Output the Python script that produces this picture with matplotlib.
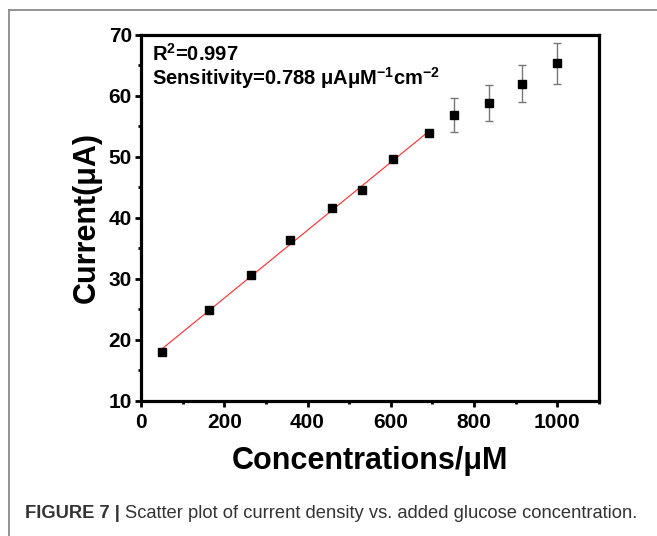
import numpy as np
import matplotlib
matplotlib.use('Agg')
import matplotlib.pyplot as plt
from matplotlib.ticker import MultipleLocator
from matplotlib.lines import Line2D

plt.rcParams['font.family'] = ['Liberation Sans', 'DejaVu Sans']
plt.rcParams['mathtext.fontset'] = 'custom'
plt.rcParams['mathtext.rm'] = 'Liberation Sans'
plt.rcParams['mathtext.bf'] = 'Liberation Sans:bold'

# linear range (fitted)
conc_fit = [51, 163, 265, 359, 458, 530, 606, 693]
current_fit = [18.0, 24.9, 30.7, 36.3, 41.6, 44.5, 49.7, 53.9]
# saturation range (with error bars)
conc_sat = [752, 835, 916, 1000]
current_sat = [56.8, 58.8, 62.0, 65.3]
err_sat = [2.8, 2.9, 3.0, 3.3]

fig = plt.figure(figsize=(6.57, 5.36), dpi=100)
ax = fig.add_axes([0.2146, 0.2519, 0.697, 0.6834])

# outer frame of the figure panel
fig.add_artist(Line2D([8.5 / 657, 8.5 / 657], [0, 1 - 10 / 536], color='#8a8a8a', lw=1.3))
fig.add_artist(Line2D([8.5 / 657, 1], [1 - 10 / 536, 1 - 10 / 536], color='#8a8a8a', lw=1.3))

# fitted line
slope, icpt = np.polyfit(conc_fit, current_fit, 1)
xx = np.array([conc_fit[0], conc_fit[-1]])
ax.plot(xx, slope * xx + icpt, color='#ff2a2a', lw=0.8, zorder=2)

ax.plot(conc_fit, current_fit, 's', color='black', ms=6, zorder=3)
ax.errorbar(conc_sat, current_sat, yerr=err_sat, fmt='s', color='black', ms=6,
            ecolor='#777777', elinewidth=1.0, capsize=3, capthick=1.0, zorder=3)

ax.set_xlim(0, 1100)
ax.set_ylim(10, 70)
ax.xaxis.set_major_locator(MultipleLocator(200))
ax.xaxis.set_minor_locator(MultipleLocator(100))
ax.yaxis.set_major_locator(MultipleLocator(10))
ax.yaxis.set_minor_locator(MultipleLocator(5))
ax.tick_params(which='major', direction='out', length=4.5, width=2, labelsize=15)
ax.tick_params(axis='x', which='major', pad=4)
ax.tick_params(axis='y', which='major', pad=2)
ax.tick_params(which='minor', direction='out', length=2.5, width=2)
for lab in ax.get_xticklabels() + ax.get_yticklabels():
    lab.set_fontweight('bold')
for sp in ax.spines.values():
    sp.set_linewidth(2.3)

ax.set_xlabel('Concentrations/μM', fontsize=22, fontweight='bold', labelpad=10)
ax.set_ylabel('Current(μA)', fontsize=22, fontweight='bold', labelpad=5)

ax.text(0.025, 0.978, r'R$^{\mathbf{2}}$=0.997', transform=ax.transAxes,
        fontsize=14.5, fontweight='bold', va='top', ha='left')
ax.text(0.025, 0.918, r'Sensitivity=0.788 μAμM$^{\mathbf{-1}}$cm$^{\mathbf{-2}}$',
        transform=ax.transAxes, fontsize=14.5, fontweight='bold', va='top', ha='left')

# caption
cap_y = 1 - 514 / 536
t1 = fig.text(25 / 657, cap_y, 'FIGURE 7 | ', fontsize=13.2, fontweight='bold',
              color='#333333', va='center', ha='left')
fig.canvas.draw()
bb = t1.get_window_extent()
fig.text(bb.x1 / fig.bbox.width, cap_y,
         'Scatter plot of current density vs. added glucose concentration.',
         fontsize=13.2, color='#333333', va='center', ha='left')

fig.savefig('out.png', dpi=100)
